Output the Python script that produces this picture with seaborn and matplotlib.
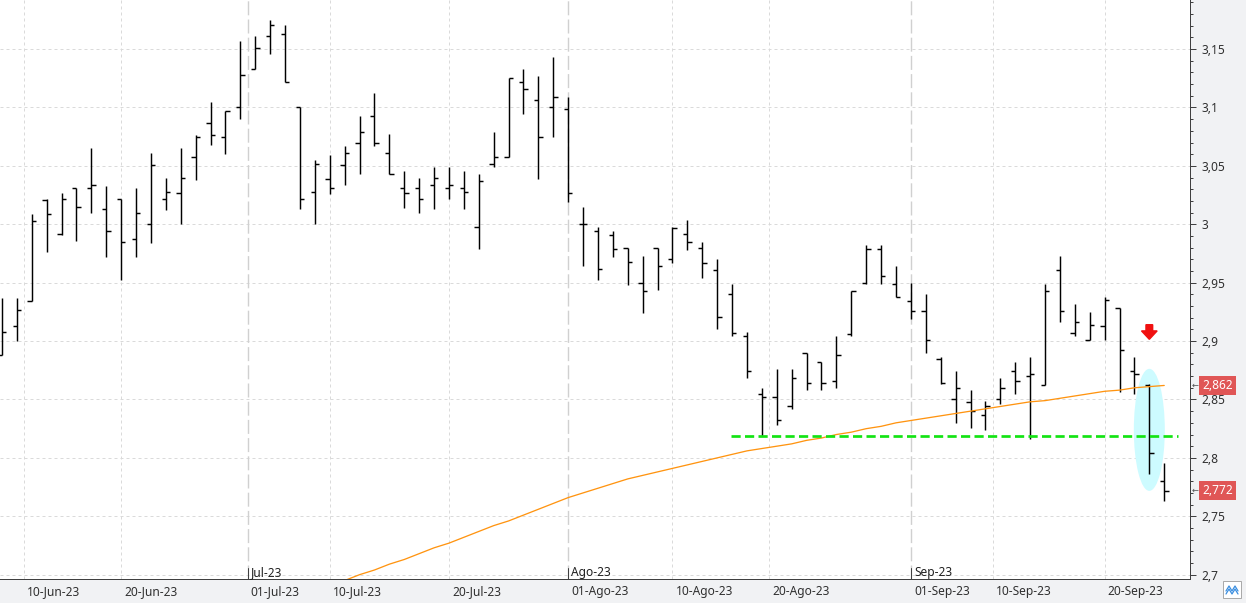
import numpy as np
import pandas as pd
import matplotlib
matplotlib.use("Agg")
import matplotlib.pyplot as plt
import seaborn as sns
from matplotlib.patches import Ellipse, FancyArrow, Rectangle
from matplotlib.lines import Line2D
from matplotlib.ticker import MultipleLocator, FuncFormatter
from matplotlib.transforms import blended_transform_factory, ScaledTranslation

# ---------------- data ----------------
dates = pd.bdate_range("2023-06-08", "2023-09-26")

open_ = [2.888, 2.913, 2.934, 3.021, 2.992, 3.031, 3.031, 3.013, 3.022, 2.987,
         3.000, 3.022, 3.027, 3.058, 3.087, 3.075, 3.100, 3.133, 3.161, 3.163,
         3.100, 3.028, 3.039, 3.051, 3.070, 3.093, 3.061, 3.031, 3.031, 3.034,
         3.031, 3.031, 2.998, 3.052, 3.058, 3.122, 3.106, 3.100, 3.099, 3.000,
         2.994, 2.991, 2.980, 2.950, 2.980, 2.970, 2.992, 2.980, 2.961, 2.940,
         2.904, 2.855, 2.852, 2.844, 2.890, 2.882, 2.866, 2.906, 2.950, 2.979,
         2.949, 2.934, 2.926, 2.885, 2.850, 2.848, 2.837, 2.850, 2.874, 2.870,
         2.862, 2.961, 2.907, 2.901, 2.913, 2.928, 2.874, 2.862, 2.780]
high = [2.937, 2.937, 3.009, 3.022, 3.027, 3.031, 3.065, 3.033, 3.022, 3.031,
        3.061, 3.040, 3.065, 3.076, 3.105, 3.097, 3.157, 3.161, 3.175, 3.171,
        3.100, 3.055, 3.059, 3.067, 3.093, 3.112, 3.077, 3.046, 3.040, 3.049,
        3.049, 3.046, 3.043, 3.079, 3.125, 3.133, 3.127, 3.143, 3.109, 3.015,
        2.998, 2.994, 2.980, 2.973, 2.980, 2.998, 3.004, 2.985, 2.970, 2.949,
        2.908, 2.860, 2.876, 2.876, 2.890, 2.882, 2.904, 2.943, 2.982, 2.982,
        2.964, 2.950, 2.940, 2.886, 2.874, 2.858, 2.849, 2.868, 2.882, 2.886,
        2.949, 2.973, 2.932, 2.925, 2.938, 2.928, 2.886, 2.863, 2.796]
low = [2.888, 2.900, 2.934, 2.976, 2.991, 2.986, 3.010, 2.972, 2.952, 2.972,
       2.984, 3.012, 3.000, 3.038, 3.068, 3.060, 3.090, 3.133, 3.146, 3.122,
       3.013, 3.000, 3.026, 3.034, 3.043, 3.067, 3.043, 3.014, 3.010, 3.013,
       3.022, 3.013, 2.979, 3.049, 3.058, 3.094, 3.039, 3.075, 3.019, 2.964,
       2.952, 2.972, 2.948, 2.924, 2.944, 2.967, 2.978, 2.954, 2.910, 2.904,
       2.868, 2.819, 2.828, 2.842, 2.858, 2.858, 2.860, 2.904, 2.949, 2.949,
       2.938, 2.919, 2.890, 2.863, 2.830, 2.826, 2.824, 2.846, 2.855, 2.816,
       2.862, 2.916, 2.904, 2.901, 2.901, 2.856, 2.855, 2.786, 2.763]
close = [2.908, 2.927, 3.003, 3.009, 3.022, 3.015, 3.034, 2.994, 2.985, 3.010,
         3.051, 3.028, 3.040, 3.075, 3.076, 3.097, 3.128, 3.151, 3.171, 3.122,
         3.022, 3.052, 3.031, 3.061, 3.079, 3.070, 3.043, 3.027, 3.022, 3.040,
         3.034, 3.028, 3.037, 3.058, 3.125, 3.116, 3.075, 3.109, 3.027, 3.000,
         2.962, 2.979, 2.968, 2.943, 2.964, 2.997, 2.985, 2.967, 2.921, 2.907,
         2.874, 2.852, 2.832, 2.868, 2.864, 2.864, 2.888, 2.943, 2.979, 2.956,
         2.938, 2.926, 2.901, 2.864, 2.860, 2.840, 2.844, 2.860, 2.866, 2.872,
         2.943, 2.926, 2.916, 2.914, 2.935, 2.892, 2.872, 2.804, 2.772]

# moving average (orange), from bar 22 onwards
ma_first_bar = 22
ma_values = [2.690, 2.695, 2.700, 2.704, 2.709, 2.713, 2.718, 2.723, 2.727, 2.732,
             2.737, 2.742, 2.746, 2.751, 2.756, 2.761, 2.766, 2.770, 2.774, 2.778,
             2.782, 2.785, 2.788, 2.791, 2.794, 2.797, 2.800, 2.803, 2.806, 2.808,
             2.810, 2.812, 2.815, 2.817, 2.820, 2.822, 2.825, 2.827, 2.830, 2.832,
             2.834, 2.836, 2.838, 2.840, 2.842, 2.844, 2.846, 2.848, 2.849, 2.851,
             2.853, 2.855, 2.857, 2.858, 2.860, 2.861, 2.862]

support_level = 2.8185
support_span = [48.95, 78.9]          # in bar units
highlight_bar = 77                    # 25-Sep-23
highlight_center = 2.824
highlight_height = 0.1045
arrow_top = 2.9140

last_labels = [2.862, 2.772]          # MA last value, last close

tick_dates = ["2023-06-10", "2023-06-20", "2023-07-01", "2023-07-10", "2023-07-20",
              "2023-08-01", "2023-08-10", "2023-08-20", "2023-09-01", "2023-09-10",
              "2023-09-20"]
tick_labels = ["10-Jun-23", "20-Jun-23", "01-Jul-23", "10-Jul-23", "20-Jul-23",
               "01-Ago-23", "10-Ago-23", "20-Ago-23", "01-Sep-23", "10-Sep-23",
               "20-Sep-23"]
month_dates = ["2023-07-01", "2023-08-01", "2023-09-01"]
month_labels = ["Jul-23", "Ago-23", "Sep-23"]

# ---------------- style ----------------
sns.set_style("white")
plt.rcParams["font.family"] = ["Noto Sans", "DejaVu Sans"]
FS = 8.6
plt.rcParams["font.size"] = FS

W, H, DPI = 1246, 603, 100
fig = plt.figure(figsize=(W / DPI, H / DPI), dpi=DPI, facecolor="#f1f2f4")
ax_right_px, ax_bottom_px = 1190, 579
ax = fig.add_axes([0, (H - ax_bottom_px) / H, ax_right_px / W, ax_bottom_px / H])
ax.set_facecolor("white")

idx = np.arange(len(dates))


def date_pos(d):
    d = pd.Timestamp(d)
    i = dates.searchsorted(d)
    return float(i) if (i < len(dates) and dates[i] == d) else i - 0.5


tick_pos = [date_pos(d) for d in tick_dates]
month_pos = [date_pos(d) for d in month_dates]

ax.set_xlim(-0.13, 79.73)
ax.set_ylim(2.6963, 3.192)

# grid
px = 72 / DPI
ax.yaxis.set_major_locator(MultipleLocator(0.05))
ax.yaxis.set_minor_locator(MultipleLocator(0.01))
ax.yaxis.grid(True, which="major", color="#dadada", lw=1 * px, linestyle=(0, (3, 3)))
ax.xaxis.grid(False)
for p in tick_pos:
    if p in month_pos:
        ax.axvline(p, color="#d0d0d0", lw=1.4 * px, linestyle=(0, (10, 3)), zorder=0.8)
    else:
        ax.axvline(p, color="#dadada", lw=1 * px, linestyle=(0, (3, 3)), zorder=0.8)

# highlight ellipse
ax.add_patch(Ellipse((highlight_bar, highlight_center), 2.08, highlight_height,
                     facecolor="#cdfbff", edgecolor="none", zorder=1))

# OHLC bars
tw = 0.29
blw = 1.45 * px
ax.vlines(idx, low, high, color="black", lw=blw, zorder=3)
ax.hlines(open_, idx - tw, idx, color="black", lw=blw, zorder=3)
ax.hlines(close, idx, idx + tw, color="black", lw=blw, zorder=3)

# moving average
ma_x = np.arange(ma_first_bar, ma_first_bar + len(ma_values))
sns.lineplot(x=ma_x, y=ma_values, ax=ax, color="#ff9410", lw=1.3 * px, zorder=4)

# support line
ax.hlines(support_level, support_span[0], support_span[1], color="#13e313",
          lw=2.7 * px, linestyle=(0, (3.4, 1.6)), zorder=5)

# red arrow
ax.add_patch(FancyArrow(highlight_bar, arrow_top, 0, -0.0125, width=0.45,
                        head_width=1.05, head_length=0.0072, length_includes_head=True,
                        color="#f01010", zorder=6))

# spines / ticks
for s in ["left", "top"]:
    ax.spines[s].set_visible(False)
for s in ["right", "bottom"]:
    ax.spines[s].set_color("#404040")
    ax.spines[s].set_linewidth(1 * px)

ax.yaxis.tick_right()
ax.yaxis.set_major_formatter(FuncFormatter(
    lambda v, _: f"{v:.2f}".rstrip("0").rstrip(".").replace(".", ",")))
ax.tick_params(axis="y", which="major", direction="out", length=6 * px, width=1 * px,
               color="#404040", pad=5 * px, labelsize=FS, labelcolor="#303030")
ax.tick_params(axis="y", which="minor", direction="out", length=3 * px, width=1 * px,
               color="#404040")

ax.set_xticks(tick_pos, tick_labels)
ax.xaxis.set_minor_locator(plt.NullLocator())
ax.tick_params(axis="x", direction="out", length=9 * px, width=1 * px, color="#404040",
               pad=-3 * px, labelsize=FS, labelcolor="#303030")
offset = ScaledTranslation(3 / DPI, 0, fig.dpi_scale_trans)
for lab in ax.get_xticklabels():
    lab.set_horizontalalignment("left")
    lab.set_transform(lab.get_transform() + offset)
ax.set_xlabel("")
ax.set_ylabel("")

# month markers
bt = blended_transform_factory(ax.transData, ax.transAxes)
for p, m in zip(month_pos, month_labels):
    ax.plot([p, p], [0, 11 / ax_bottom_px], transform=bt, color="#404040",
            lw=1 * px, clip_on=False, zorder=6)
    ax.annotate(m, xy=(p, 0), xycoords=bt, xytext=(3, 0), textcoords="offset pixels",
                ha="left", va="bottom", fontsize=FS, color="#202020")

# last value labels on the right axis
rt = blended_transform_factory(ax.transAxes, ax.transData)
for v in last_labels:
    ax.text(1 + 12 / ax_right_px, v, f"{v:.3f}".replace(".", ","), transform=rt,
            ha="left", va="center", color="white", fontsize=FS, clip_on=False, zorder=10,
            bbox=dict(boxstyle="square,pad=0.25", facecolor="#e05656", edgecolor="none"))
    ax.text(1 + 2 / ax_right_px, v, "←", transform=rt, ha="left", va="center",
            color="#505050", fontsize=6, clip_on=False, zorder=10)

# small chart-type button bottom right
fig.add_artist(Rectangle((1223 / W, 5 / H), 18 / W, 17 / H, transform=fig.transFigure,
                         facecolor="white", edgecolor="#a8a8a8", lw=0.7))
fig.add_artist(Line2D(np.array([1226, 1229, 1232, 1235, 1238]) / W,
                      np.array([12, 17, 12, 17, 12]) / H, transform=fig.transFigure,
                      color="#3a8ee0", lw=0.9))
fig.add_artist(Line2D(np.array([1226, 1229, 1232, 1235, 1238]) / W,
                      np.array([9, 14, 9, 14, 9]) / H, transform=fig.transFigure,
                      color="#3a8ee0", lw=0.9))

fig.savefig("out.png", dpi=DPI, facecolor=fig.get_facecolor())
